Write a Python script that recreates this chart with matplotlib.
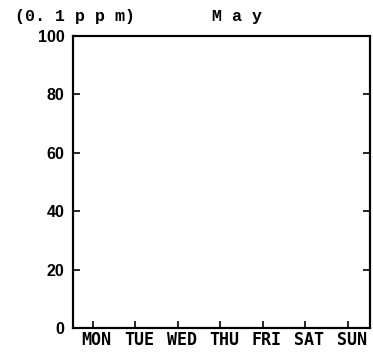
import matplotlib
matplotlib.use("Agg")
import matplotlib.pyplot as plt
from matplotlib.transforms import ScaledTranslation

# ── Datos del gráfico (vacío: solo ejes) ──────────────────────────────────
days = ["MON", "TUE", "WED", "THU", "FRI", "SAT", "SUN"]
day_pos = [1, 2, 3, 4, 5, 6, 7]
y_ticks = [0, 20, 40, 60, 80, 100]
y_right_ticks = [20, 40, 60, 80]
unit_label = "(0. 1 p p m)"
month_label = "M a y"

W, H = 373, 353
fig = plt.figure(figsize=(W / 100, H / 100), dpi=100)
ax = fig.add_axes([73 / W, 1 - 328 / H, (370 - 73) / W, (328 - 36) / H])

ax.set_xlim(0.54, 7.52)
ax.set_ylim(0, 100)

for s in ax.spines.values():
    s.set_linewidth(1.5)
    s.set_color("black")

ax.set_yticks(y_ticks)
ax.set_yticklabels([str(v) for v in y_ticks], fontsize=11.5, fontweight="bold",
                   family="Liberation Sans")
ax.tick_params(axis="y", direction="in", length=5, width=1.2, pad=6)

ax.set_xticks(day_pos)
ax.set_xticklabels(days, fontsize=12, fontweight="bold", family="DejaVu Sans Mono")
ax.tick_params(axis="x", direction="in", length=5, width=1.2, pad=2)
shift = ScaledTranslation(4 / 100, 0, fig.dpi_scale_trans)
for lab in ax.get_xticklabels():
    lab.set_transform(lab.get_transform() + shift)

# ticks del eje derecho
ax2 = ax.twinx()
ax2.set_ylim(0, 100)
ax2.set_yticks(y_right_ticks)
ax2.set_yticklabels([])
ax2.tick_params(axis="y", direction="in", length=5, width=1.2)
for s in ax2.spines.values():
    s.set_linewidth(1.5)

fig.text(15 / W, 1 - 21 / H, unit_label, fontsize=12, family="Liberation Mono",
         fontweight="bold", ha="left", va="baseline")
fig.text(212 / W, 1 - 21 / H, month_label, fontsize=12, family="Liberation Mono",
         fontweight="bold", ha="left", va="baseline")

fig.savefig("out.png", dpi=100, facecolor="white")
